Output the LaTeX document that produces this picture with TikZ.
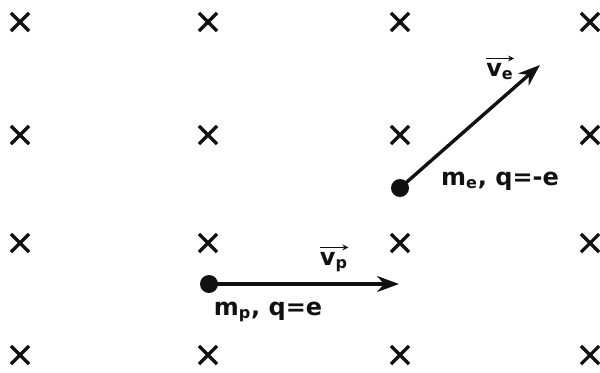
\documentclass[tikz,border=0pt]{standalone}
\usepackage{fontspec}
\setmainfont{DejaVu Sans}
\usetikzlibrary{arrows.meta,positioning,shapes.misc}
\definecolor{ink}{HTML}{111111}

\begin{document}
\begin{tikzpicture}[x=0.5pt,y=0.5pt,
  xmark/.style={cross out,draw=ink,line width=1.6pt,minimum size=7.5pt,inner sep=0pt},
  particle/.style={circle,fill=ink,minimum size=9pt,inner sep=0pt},
  velocity/.style={ink,line width=1.7pt,-{Stealth[length=11pt,width=8pt]}},
  overarrow/.style={ink,line width=0.9pt,-{Stealth[length=3pt,width=3pt]}},
  tag/.style={font=\large\bfseries,text=ink,inner sep=0pt}]
  \useasboundingbox (0,0) rectangle (600,372);

  % Field into the page
  \foreach \col/\px in {1/20,2/208,3/400,4/590}
    \foreach \row/\py in {1/350,2/237,3/129,4/17}
      \node[xmark] (b\col\row) at (\px,\py) {};

  % Electron
  \node[particle] (elec) at (400,184) {};
  \coordinate (elecTip) at (540,307);
  \draw[velocity] (elec.center) -- (elecTip);
  \node[tag,anchor=base] (velec) at (500,296) {v\textsubscript{e}};
  \draw[overarrow] ([yshift=2pt]velec.north west) -- ([yshift=2pt]velec.north east);
  \node[tag] (lelec) at (500,191) {m\textsubscript{e}, q=-e};

  % Proton
  \node[particle] (prot) at (209,88) {};
  \coordinate (protTip) at (399,88);
  \draw[velocity] (prot.center) -- (protTip);
  \node[tag,anchor=base] (vprot) at (334,107) {v\textsubscript{p}};
  \draw[overarrow] ([yshift=2pt]vprot.north west) -- ([yshift=2pt]vprot.north east);
  \node[tag] (lprot) at (268,60) {m\textsubscript{p}, q=e};
\end{tikzpicture}
\end{document}
